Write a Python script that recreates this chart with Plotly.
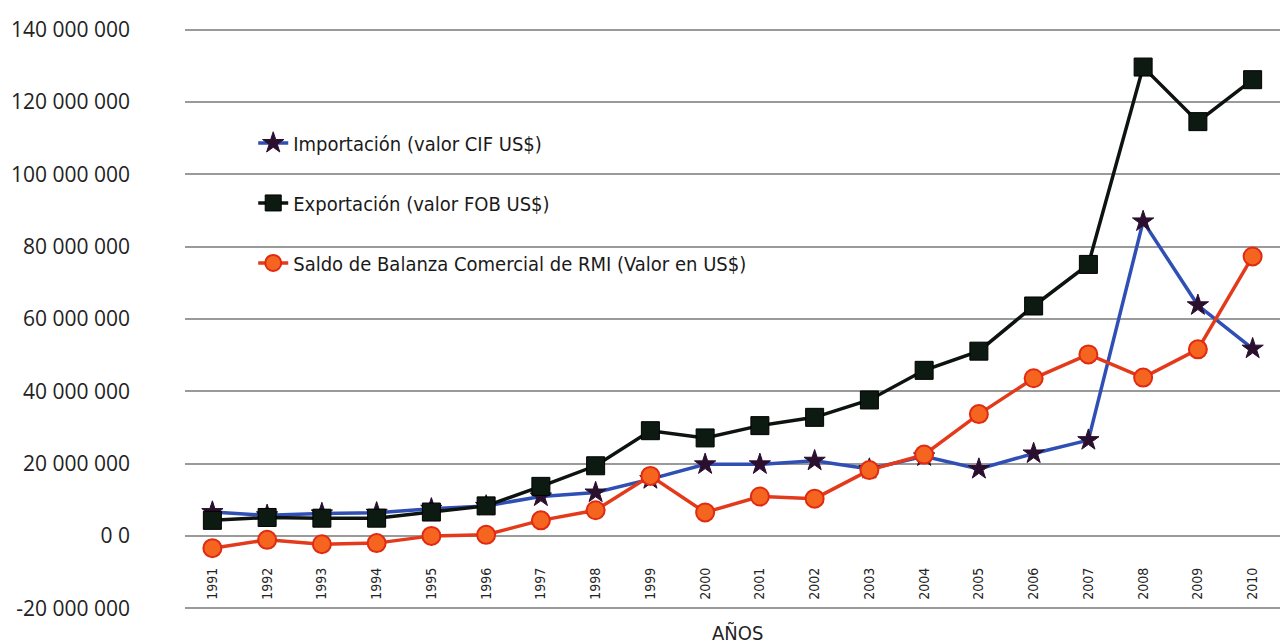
import plotly.graph_objects as go

years = [str(y) for y in range(1991, 2011)]

importacion = [6.6e6, 5.7e6, 6.2e6, 6.4e6, 7.5e6, 8.3e6, 10.9e6, 12.0e6, 15.7e6, 19.8e6,
               19.8e6, 20.8e6, 18.5e6, 22.0e6, 18.5e6, 22.8e6, 26.5e6, 87.0e6, 63.8e6, 51.8e6]
exportacion = [4.3e6, 5.1e6, 4.9e6, 4.9e6, 6.6e6, 8.3e6, 13.7e6, 19.4e6, 29.1e6, 27.1e6,
               30.5e6, 32.8e6, 37.6e6, 45.8e6, 51.1e6, 63.6e6, 75.1e6, 129.7e6, 114.6e6, 126.2e6]
saldo = [-3.4e6, -1.1e6, -2.3e6, -2.0e6, 0.0, 0.3e6, 4.3e6, 7.1e6, 16.6e6, 6.5e6,
         10.9e6, 10.3e6, 18.2e6, 22.5e6, 33.7e6, 43.6e6, 50.2e6, 43.8e6, 51.6e6, 77.3e6]

names = ["Importación (valor CIF US$)", "Exportación (valor FOB US$)",
         "Saldo de Balanza Comercial de RMI (Valor en US$)"]

ytick_vals = [-20e6, 0, 20e6, 40e6, 60e6, 80e6, 100e6, 120e6, 140e6]
ytick_text = ["-20 000 000", "0 0", "20 000 000", "40 000 000", "60 000 000",
              "80 000 000", "100 000 000", "120 000 000", "140 000 000"]

cond = "DejaVu Sans Condensed, Open Sans, sans-serif"

fig = go.Figure()
fig.add_trace(go.Scatter(
    x=years, y=importacion, name=names[0], mode="lines+markers", legendgroup="a",
    line=dict(color="#2f4fb5", width=3.5),
    marker=dict(symbol="star", size=16, color="#2a0f2e", line=dict(color="#2a0f2e", width=1)),
))
fig.add_trace(go.Scatter(
    x=years, y=exportacion, name=names[1], mode="lines+markers", legendgroup="b",
    line=dict(color="#0d140f", width=3.5),
    marker=dict(symbol="square", size=18, color="#0d1a12", line=dict(color="#000000", width=1)),
))
fig.add_trace(go.Scatter(
    x=years, y=saldo, name=names[2], mode="lines+markers", legendgroup="c",
    line=dict(color="#e43a1c", width=3.5),
    marker=dict(symbol="circle", size=18, color="#f5651f", line=dict(color="#e02a12", width=2)),
))

fig.update_layout(
    width=1284, height=644,
    margin=dict(l=185, r=4, t=28, b=34, autoexpand=False),
    paper_bgcolor="white", plot_bgcolor="white",
    font=dict(family="Open Sans, sans-serif", color="#222222"),
    showlegend=True,
    legend=dict(
        x=0.0623, y=0.836, xanchor="left", yanchor="top",
        bgcolor="rgba(0,0,0,0)",
        font=dict(family=cond, size=20, color="#1a1a1a"),
        tracegroupgap=31, itemwidth=30,
    ),
    xaxis=dict(
        type="category", range=[-0.5, 19.5], automargin=False,
        anchor="free", position=0.079,
        tickangle=-90,
        tickfont=dict(family=cond, size=14, color="#222222"),
        showgrid=False, zeroline=False, showline=False, ticks="",
    ),
    yaxis=dict(
        range=[-20.5e6, 140.5e6], automargin=False,
        tickvals=ytick_vals, ticktext=ytick_text,
        tickfont=dict(family="Open Sans, sans-serif", size=21, color="#222222"),
        showgrid=True, gridcolor="#9a9a9a", gridwidth=1.5,
        zeroline=False, showline=False,
        ticklabelstandoff=54,
    ),
    annotations=[dict(
        text="AÑOS", xref="paper", yref="paper", x=0.505, y=-0.04,
        xanchor="center", yanchor="middle", showarrow=False,
        font=dict(family=cond, size=20, color="#222222"),
    )],
)

fig.write_html(
    "out.html",
    config={"displayModeBar": False},
    post_script="document.body.style.margin='0px';document.body.style.overflow='hidden';",
)
